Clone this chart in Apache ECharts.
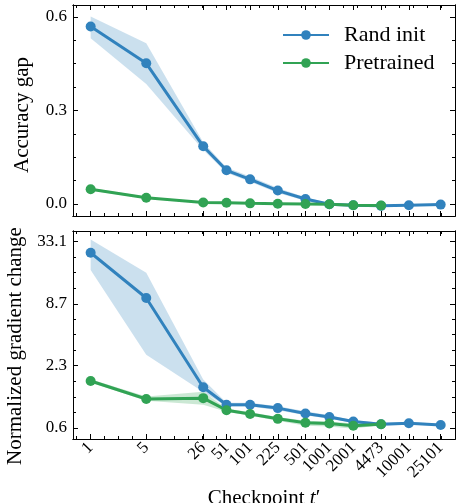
<!DOCTYPE html>
<html>
<head>
<meta charset="utf-8">
<script src="https://cdn.jsdelivr.net/npm/echarts@6/dist/echarts.min.js"></script>
<style>
  html, body { margin: 0; padding: 0; background: #fff; }
  #chart { width: 461px; height: 503px; }
</style>
</head>
<body>
<div id="chart"></div>
<script>
// checkpoints t'
const checkpoints = [1, 5, 26, 51, 101, 225, 501, 1001, 2001, 4473, 10001, 25101];

// accuracy gap (top panel)
const accRand   = [0.569, 0.451, 0.185, 0.108, 0.079, 0.043, 0.016, -0.001, -0.004, -0.006, -0.004, -0.002];
const accRandLo = [0.531, 0.385, 0.173, 0.100, 0.071, 0.035, 0.010, -0.004, -0.006, -0.008, -0.006, -0.004];
const accRandHi = [0.601, 0.515, 0.198, 0.117, 0.088, 0.051, 0.022, 0.002, -0.002, -0.004, -0.002, 0.000];
const accPre    = [0.047, 0.020, 0.005, 0.004, 0.002, 0.001, 0.000, -0.001, -0.004, -0.005];
const accPreLo  = [0.043, 0.017, 0.003, 0.002, 0.000, -0.001, -0.002, -0.003, -0.006, -0.007];
const accPreHi  = [0.051, 0.023, 0.007, 0.006, 0.004, 0.003, 0.002, 0.001, -0.002, -0.003];

// normalized gradient change (bottom panel, log scale)
const gradRand   = [26.1, 9.86, 1.44, 0.99, 0.99, 0.92, 0.82, 0.76, 0.69, 0.65, 0.665, 0.64];
const gradRandLo = [18.0, 2.9, 1.30, 0.95, 0.95, 0.88, 0.79, 0.73, 0.67, 0.63, 0.645, 0.625];
const gradRandHi = [34.8, 17.0, 1.70, 1.03, 1.03, 0.96, 0.86, 0.79, 0.71, 0.67, 0.685, 0.655];
const gradPre    = [1.65, 1.12, 1.14, 0.88, 0.81, 0.73, 0.67, 0.66, 0.63, 0.65];
const gradPreLo  = [1.60, 1.08, 0.99, 0.85, 0.78, 0.70, 0.63, 0.62, 0.59, 0.64];
const gradPreHi  = [1.71, 1.18, 1.31, 0.91, 0.84, 0.76, 0.70, 0.69, 0.66, 0.66];

// tick labels / tick positions
const accTicks = [0, 0.3, 0.6];
const accMinor = [0, 0.075, 0.15, 0.225, 0.3, 0.375, 0.45, 0.525, 0.6];
const gradTicks = [0.6, 2.3, 8.7, 33.1];
const gradMinor = [0.6, 0.838, 1.171, 1.635, 2.3, 3.212, 4.486, 6.266, 8.7, 12.15, 16.97, 23.7, 33.1];
const xMinor = [];
for (let k = -1; k <= 26; k++) xMinor.push(Math.pow(1.5, k));

const X_MIN = 0.6, X_MAX = 38000;
const ACC_MIN = -0.0385, ACC_MAX = 0.638;
const GRAD_MIN = 0.473, GRAD_MAX = 41.7;

const BLUE = '#3182bd', GREEN = '#31a354';
const BLUE_BAND = 'rgba(49,130,189,0.25)', GREEN_BAND = 'rgba(49,163,84,0.25)';
const FONT = "'Liberation Serif', 'Times New Roman', serif";

const lg = Math.log10;

const rects = [
  { left: 73, right: 6, top: 5, height: 211 },
  { left: 73, right: 6, top: 231, height: 208 }
];

// per panel: data grid, major-tick grid, minor-tick grid (all same rect, no auto shrinking)
const grid = [];
[0, 1].forEach(p => {
  for (let j = 0; j < 3; j++) grid.push(Object.assign({ outerBoundsMode: 'none', containLabel: false }, rects[p]));
});

function decoAxis(gi, position, min, max, ticks, len, extra) {
  return Object.assign({
    type: 'value', gridIndex: gi, position: position, min: min, max: max,
    axisLine: { show: true, onZero: false, lineStyle: { color: '#000', width: 1 } },
    axisTick: { show: true, inside: true, length: len, customValues: ticks, lineStyle: { color: '#000', width: 1 } },
    axisLabel: { show: false },
    splitLine: { show: false }
  }, extra || {});
}

const xAxis = [];
const yAxis = [];
[0, 1].forEach(p => {
  const g0 = p * 3;
  const xMaj = checkpoints.map(lg);
  const xMin = xMinor.map(lg);
  const lx0 = lg(X_MIN), lx1 = lg(X_MAX);
  // data axes (index 0 for top panel, 5 for bottom panel)
  xAxis.push({ type: 'log', logBase: 10, gridIndex: g0, min: X_MIN, max: X_MAX, show: false });
  if (p === 0) {
    yAxis.push({ type: 'value', gridIndex: g0, min: ACC_MIN, max: ACC_MAX, show: false });
  } else {
    yAxis.push({ type: 'log', logBase: 10, gridIndex: g0, min: GRAD_MIN, max: GRAD_MAX, show: false });
  }
  // major x
  const bottomExtra = p === 1 ? {
    axisLabel: {
      show: true, customValues: xMaj, rotate: 45, margin: 6,
      fontFamily: FONT, fontSize: 17, color: '#000',
      formatter: v => String(Math.round(Math.pow(10, v)))
    },
    name: '{a|Checkpoint }{b|t}{a|\u2032}', nameLocation: 'middle', nameGap: 49,
    nameTextStyle: {
      rich: {
        a: { fontFamily: FONT, fontSize: 21, color: '#000' },
        b: { fontFamily: FONT, fontSize: 21, color: '#000', fontStyle: 'italic' }
      }
    }
  } : {};
  xAxis.push(decoAxis(g0 + 1, 'bottom', lx0, lx1, xMaj, 5, bottomExtra));
  xAxis.push(decoAxis(g0 + 1, 'top', lx0, lx1, xMaj, 5));
  xAxis.push(decoAxis(g0 + 2, 'bottom', lx0, lx1, xMin, 3));
  xAxis.push(decoAxis(g0 + 2, 'top', lx0, lx1, xMin, 3));

  // y
  let y0, y1, yMaj, yMin, fmt, name, namePad;
  if (p === 0) {
    y0 = ACC_MIN; y1 = ACC_MAX; yMaj = accTicks; yMin = accMinor;
    fmt = v => v.toFixed(1); name = 'Accuracy gap'; namePad = [0, 9, 0, 0];
  } else {
    y0 = lg(GRAD_MIN); y1 = lg(GRAD_MAX); yMaj = gradTicks.map(lg); yMin = gradMinor.map(lg);
    fmt = v => Math.pow(10, v).toFixed(1); name = 'Normalized gradient change'; namePad = [0, 22, 0, 0];
  }
  yAxis.push(decoAxis(g0 + 1, 'left', y0, y1, yMaj, 5, {
    axisLabel: { show: true, customValues: yMaj, margin: 6, fontFamily: FONT, fontSize: 17, color: '#000', formatter: fmt },
    name: name, nameLocation: 'middle', nameGap: 40, nameRotate: 90,
    nameTextStyle: { fontFamily: FONT, fontSize: 21, color: '#000', padding: namePad }
  }));
  yAxis.push(decoAxis(g0 + 1, 'right', y0, y1, yMaj, 5));
  yAxis.push(decoAxis(g0 + 2, 'left', y0, y1, yMin, 3));
  yAxis.push(decoAxis(g0 + 2, 'right', y0, y1, yMin, 3));
});

function band(axisIdx, lo, hi, color) {
  return {
    type: 'custom', xAxisIndex: axisIdx, yAxisIndex: axisIdx, silent: true, z: 1,
    data: lo.map((v, i) => [checkpoints[i], v, hi[i]]),
    encode: { x: 0, y: [1, 2] },
    renderItem: function (params, api) {
      if (params.dataIndex !== 0) return null;
      const pts = [];
      for (let i = 0; i < hi.length; i++) pts.push(api.coord([checkpoints[i], hi[i]]));
      for (let i = lo.length - 1; i >= 0; i--) pts.push(api.coord([checkpoints[i], lo[i]]));
      return { type: 'polygon', shape: { points: pts }, style: { fill: color } };
    }
  };
}

function line(name, axisIdx, vals, color) {
  return {
    name: name, type: 'line', xAxisIndex: axisIdx, yAxisIndex: axisIdx, z: 3,
    data: vals.map((v, i) => [checkpoints[i], v]),
    symbol: 'circle', symbolSize: 10, showSymbol: true,
    lineStyle: { color: color, width: 3 },
    itemStyle: { color: color },
    emphasis: { disabled: true }
  };
}

const series = [
  band(0, accRandLo, accRandHi, BLUE_BAND),
  band(0, accPreLo, accPreHi, GREEN_BAND),
  band(5, gradRandLo, gradRandHi, BLUE_BAND),
  band(5, gradPreLo, gradPreHi, GREEN_BAND),
  line('Rand init', 0, accRand, BLUE),
  line('Pretrained', 0, accPre, GREEN),
  line('Rand init', 5, gradRand, BLUE),
  line('Pretrained', 5, gradPre, GREEN)
];

const chart = echarts.init(document.getElementById('chart'), null, { renderer: 'canvas' });
chart.setOption({
  animation: false,
  backgroundColor: '#fff',
  grid: grid,
  xAxis: xAxis,
  yAxis: yAxis,
  legend: {
    data: ['Rand init', 'Pretrained'],
    orient: 'vertical', left: 282, top: 24,
    itemWidth: 46, itemHeight: 12, itemGap: 6, padding: 0,
    textStyle: { fontFamily: FONT, fontSize: 22, color: '#000', padding: [0, 0, 0, 10] }
  },
  series: series
});
</script>
</body>
</html>
